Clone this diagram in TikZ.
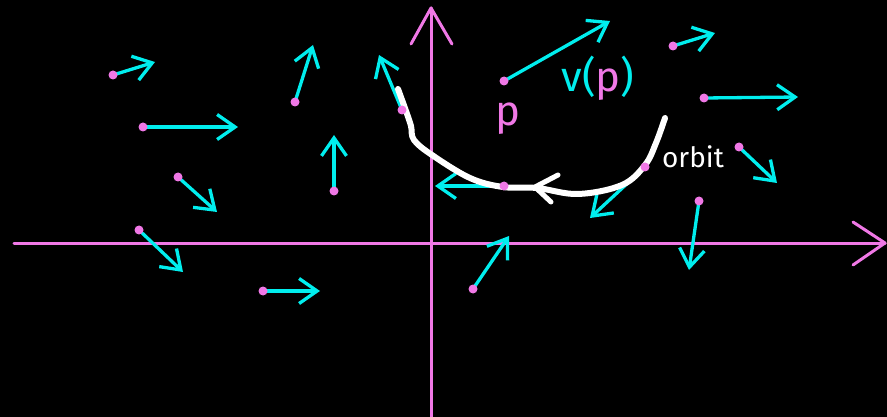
\documentclass[tikz,border=0pt]{standalone}
\usepackage{fontspec}
\setmainfont{Fira Sans}
\usetikzlibrary{arrows.meta}
\definecolor{pk}{RGB}{240,120,230}
\definecolor{cy}{RGB}{0,238,238}
\begin{document}
\begin{tikzpicture}[x=1pt,y=-1pt,
  vec/.style={cy,line width=3.3pt,line cap=round,line join=round,-{Straight Barb[length=18pt,width=25pt]}},
  axis/.style={pk,line width=3pt,line cap=round,line join=round},
  orbitline/.style={white,line width=6pt,line cap=round,line join=round},
  dot/.style={pk,fill=pk,draw=none}]
\fill[black] (0,0) rectangle (887,417);
\useasboundingbox (0,0) rectangle (887,417);
% axes
\coordinate (xl) at (14,243);
\coordinate (xr) at (885,243);
\coordinate (yb) at (431,417);
\coordinate (yt) at (431,8);
\draw[axis] (xl) -- (xr);
\draw[axis] (853,222) -- (xr) -- (853,265);
\draw[axis] (yb) -- (yt);
\draw[axis] (411,44) -- (yt) -- (452,44);
% vectors
\foreach \sx/\sy/\ex/\ey in {113/75/155/62, 143/127/238/127, 178/177/217/212,
   139/230/183/272, 263/291/320/291, 295/102/313/45, 334/191/334/135,
   473/289/509/236, 504/81/610/21, 504/186/435/186, 645/167/590/218,
   402/110/379/55, 673/46/715/33, 704/98/798/97, 739/147/777/183, 699/201/689/270}{
  \draw[vec] (\sx,\sy) -- (\ex,\ey);
}
% orbit
\draw[orbitline] plot[smooth,tension=0.6] coordinates {(665,118) (656,143) (645,165) (622,185) (578,194) (537,188) (503,187) (470,178) (432,155) (414,140) (411,126) (406,111) (398,89)};
\draw[orbitline,line width=5pt] (558,175) -- (535,187) -- (551,202);
% dots
\foreach \sx/\sy in {113/75, 143/127, 178/177, 139/230, 263/291, 295/102, 334/191,
   473/289, 504/81, 504/186, 645/167, 402/110, 673/46, 704/98, 739/147, 699/201}{
  \fill[dot] (\sx,\sy) circle (4.5);
}
% labels
\node[pk,font=\fontsize{42}{44}\selectfont] (plab) at (508,119) {p};
\node[font=\fontsize{42}{46}\selectfont] (vlab) at (598,78) {\textcolor{cy}{v(}\textcolor{pk}{p}\textcolor{cy}{)}};
\node[white,font=\fontsize{28}{30}\selectfont] (olab) at (693,157) {orbit};
\end{tikzpicture}
\end{document}
